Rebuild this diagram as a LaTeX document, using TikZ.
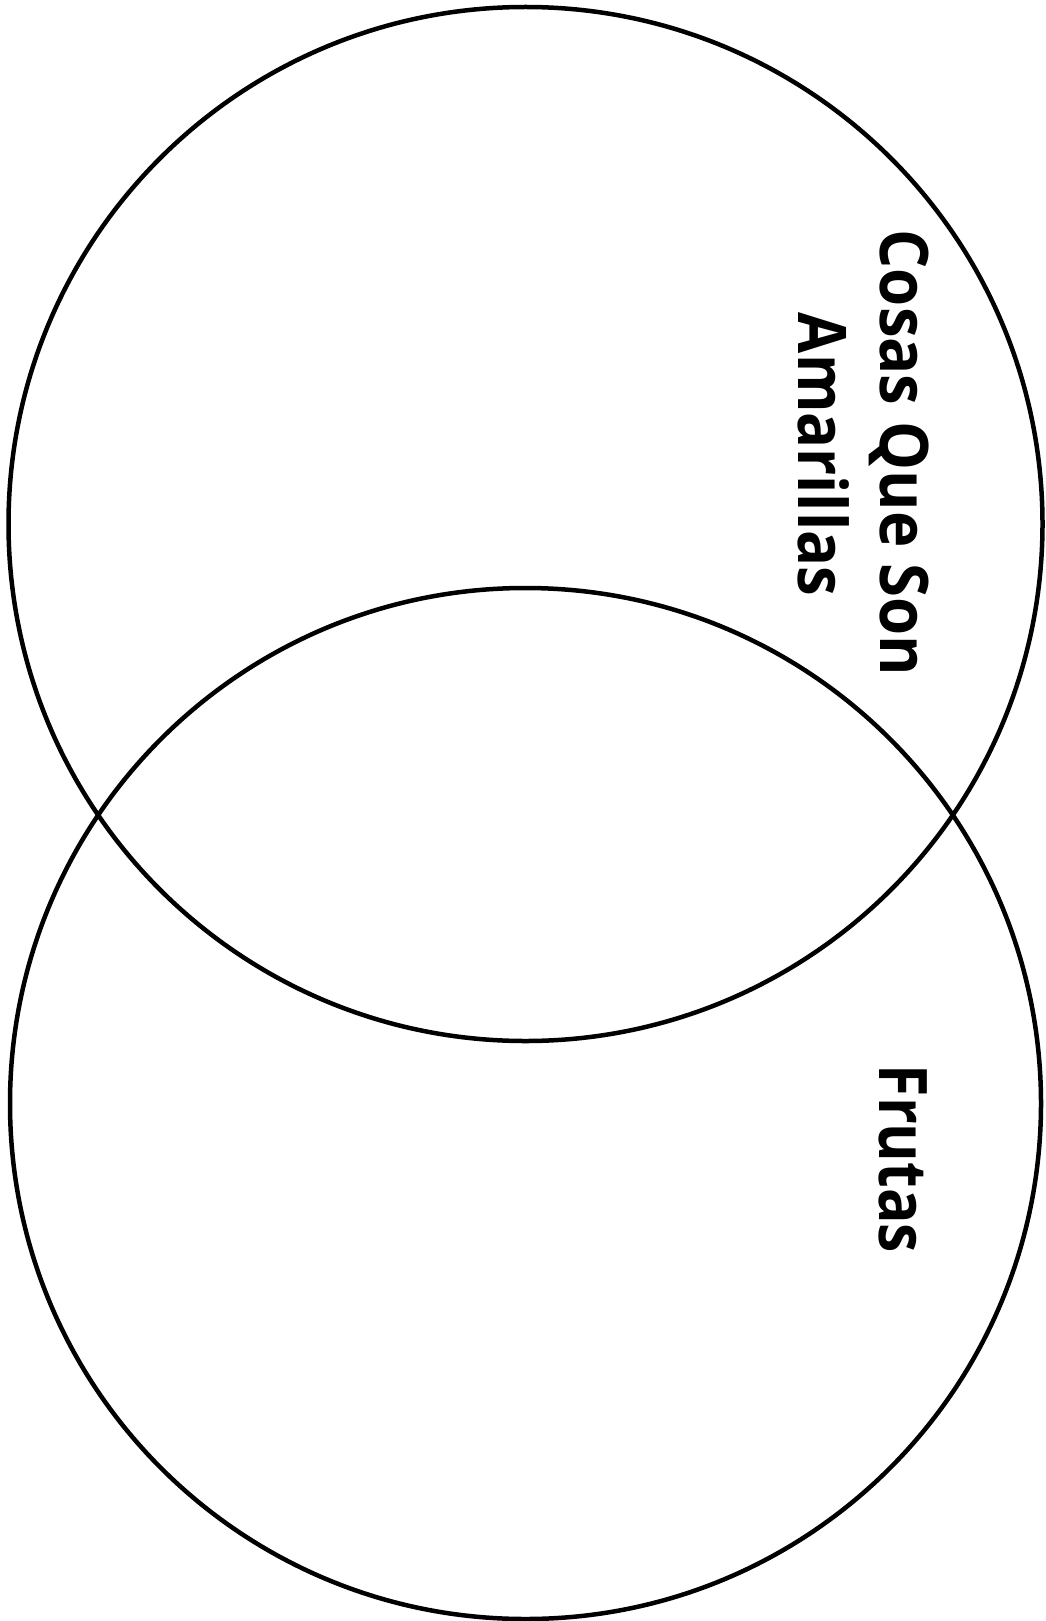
\documentclass[tikz,border=0pt]{standalone}
\usepackage{fontspec}
\setmainfont{Open Sans}
\begin{document}
\begin{tikzpicture}[x=1pt,y=-1pt,
  ring/.style={draw=black,line width=4.5pt},
  lbl/.style={rotate=-90,anchor=base,inner sep=0pt,font=\fontsize{67}{80}\selectfont\bfseries}]
\useasboundingbox (0,0) rectangle (1045,1621);
\fill[white] (0,0) rectangle (1045,1621);
\node[ring,circle,minimum size=1034pt,inner sep=0pt] (amarillas) at (525.5,524) {};
\node[ring,circle,minimum size=1031pt,inner sep=0pt] (frutas) at (525.5,1103.5) {};
\node[lbl] (t1) at (880,453) {\scalebox{0.92}[1]{Cosas Que Son}};
\node[lbl] (t2) at (798,454.5) {\scalebox{0.89}[1]{Amarillas}};
\node[lbl] (t3) at (879,1159) {\scalebox{0.88}[1]{Frutas}};
\end{tikzpicture}
\end{document}
